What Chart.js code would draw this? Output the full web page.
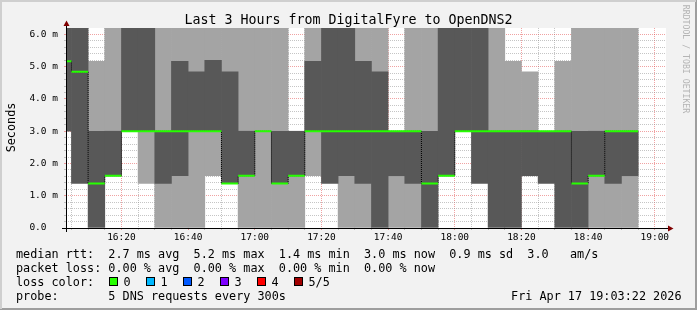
<!DOCTYPE html>
<html><head><meta charset="utf-8">
<script src="https://cdn.jsdelivr.net/npm/chart.js@4/dist/chart.umd.min.js"></script>
<style>html,body{margin:0;padding:0;background:#f2f2f2;overflow:hidden}canvas{display:block}</style>
</head><body>
<canvas id="c" width="697" height="310"></canvas>
<script>
// ---- data ----
const titleText = 'Last 3 Hours from DigitalFyre to OpenDNS2';
const startTime = '16:03:22';
const endTime = '19:03:22';
// end time of each 5-minute step
const times = ['16:05','16:10','16:15','16:20','16:25','16:30','16:35','16:40','16:45','16:50','16:55',
  '17:00','17:05','17:10','17:15','17:20','17:25','17:30','17:35','17:40','17:45','17:50','17:55',
  '18:00','18:05','18:10','18:15','18:20','18:25','18:30','18:35','18:40','18:45','18:50','18:55'];
// outer smoke band (ms)
const lightLow  = [null,null,3.0,3.0,null,1.38,0,0,0,1.62,4.84,0,0,0,0,1.62,null,0,0,4.84,0,0,3.0,null,null,null,3.0,3.0,3.0,null,3.0,3.0,0,0,0];
const lightHigh = [null,null,5.17,6.2,null,3.0,6.2,6.2,6.2,6.2,6.2,6.2,6.2,6.2,1.62,6.2,null,1.62,6.2,6.2,1.62,6.2,6.2,null,null,null,6.2,5.17,4.84,null,5.17,6.2,6.2,6.2,6.2];
// inner smoke band (ms)
const darkLow   = [3.0,1.38,0,1.62,3.0,3.0,1.38,1.62,3.0,3.0,1.38,1.62,null,1.38,1.62,3.0,1.38,1.62,1.38,0,1.62,1.38,0,1.62,3.0,1.38,0,0,1.62,1.38,0,0,1.62,1.38,1.62];
const darkHigh  = [6.2,6.2,3.0,3.0,6.2,6.2,3.0,5.17,4.84,5.2,4.84,3.0,null,3.0,3.0,5.17,6.2,6.2,5.17,4.84,3.0,3.0,3.0,6.2,6.2,6.2,3.0,3.0,3.0,3.0,3.0,3.0,3.0,3.0,3.0];
// median rtt (ms)
const median    = [5.17,4.84,1.38,1.62,3.0,3.0,3.0,3.0,3.0,3.0,1.38,1.62,3.0,1.38,1.62,3.0,3.0,3.0,3.0,3.0,3.0,3.0,1.38,1.62,3.0,3.0,3.0,3.0,3.0,3.0,3.0,1.38,1.62,3.0,3.0];
const xTickLabels = ['16:20','16:40','17:00','17:20','17:40','18:00','18:20','18:40','19:00'];
const yTickLabels = ['0.0  ','1.0 m','2.0 m','3.0 m','4.0 m','5.0 m','6.0 m'];
const yMax = 6.2;
const stepMin = 5;
const legendLines = [
  'median rtt:  2.7 ms avg  5.2 ms max  1.4 ms min  3.0 ms now  0.9 ms sd  3.0   am/s',
  'packet loss: 0.00 % avg  0.00 % max  0.00 % min  0.00 % now',
  'loss color:',
  'probe:       5 DNS requests every 300s'
];
const lossLabels = ['0','1','2','3','4','5/5'];
const lossColors = ['#26ff00','#00b8ff','#0059ff','#7e00ff','#ff0000','#a10000'];
const stampText = 'Fri Apr 17 19:03:22 2026';
const yTitle = 'Seconds';
const watermark = 'RRDTOOL / TOBI OETIKER';

// ---- helpers ----
const toMin = s => { const p = s.split(':').map(Number); return p[0]*60 + p[1] + (p[2]||0)/60; };
const ends = times.map(toMin);
const xMin = toMin(startTime), xMax = toMin(endTime);
const MONO = '"DejaVu Sans Mono", monospace';
const GRID = 'rgba(140,140,140,0.5)';
const MGRID = 'rgba(225,70,70,0.5)';

const lightData = ends.map((e,i) => ({x: e - stepMin/2, y: lightLow[i] === null ? null : [lightLow[i], lightHigh[i]]}));
const darkData  = ends.map((e,i) => ({x: e - stepMin/2, y: darkLow[i] === null ? null : [darkLow[i], darkHigh[i]]}));
const greenData = [];
ends.forEach((e,i) => { greenData.push({x: e - stepMin, y: median[i]}, {x: e, y: median[i]}, {x: e, y: null}); });
const stepData = ends.map((e,i) => ({x: e - stepMin, y: median[i]}));
stepData.push({x: ends[ends.length-1], y: median[median.length-1]});

const xMajor = new Map(xTickLabels.map(l => [toMin(l), l]));
const isXMajor = v => xMajor.has(Math.round(v));
const isYMajor = v => Math.abs(v - Math.round(v)) < 1e-6;

Chart.defaults.font.family = MONO;
Chart.defaults.color = '#000';

const decor = {
  id: 'decor',
  beforeDraw(chart) {
    const c = chart.ctx, a = chart.chartArea, W = chart.width, H = chart.height;
    c.save();
    c.fillStyle = '#f2f2f2'; c.fillRect(0, 0, W, H);
    c.fillStyle = '#9e9e9e'; c.fillRect(0, H-2, W, 2); c.fillRect(W-2, 0, 2, H);
    c.fillStyle = '#cfcfcf'; c.fillRect(0, 0, W-1, 2); c.fillRect(0, 0, 2, H-1);
    c.fillStyle = '#ffffff'; c.fillRect(a.left, a.top, a.right - a.left, a.bottom - a.top);
    c.restore();
  },
  afterDraw(chart) {
    const c = chart.ctx, a = chart.chartArea;
    c.save();
    // axes
    c.strokeStyle = '#000'; c.lineWidth = 1;
    c.beginPath();
    c.moveTo(a.left - 4, a.bottom + 0.5); c.lineTo(a.right + 4, a.bottom + 0.5);
    c.moveTo(a.left + 0.5, a.bottom + 4); c.lineTo(a.left + 0.5, a.top - 4);
    c.stroke();
    // arrows
    c.fillStyle = '#800000';
    c.beginPath();
    c.moveTo(a.right + 2, a.bottom - 2.5); c.lineTo(a.right + 2, a.bottom + 3.5); c.lineTo(a.right + 7.5, a.bottom + 0.5); c.closePath(); c.fill();
    c.beginPath();
    c.moveTo(a.left - 2.5, a.top - 2); c.lineTo(a.left + 3.5, a.top - 2); c.lineTo(a.left + 0.5, a.top - 7.5); c.closePath(); c.fill();
    // title
    c.fillStyle = '#000';
    c.font = '13.3px ' + MONO; c.textAlign = 'center'; c.textBaseline = 'alphabetic';
    c.fillText(titleText, chart.width/2, 23.5);
    // y title
    c.font = '11.8px ' + MONO;
    c.save(); c.translate(15, 127.5); c.rotate(-Math.PI/2); c.textBaseline = 'alphabetic'; c.fillText(yTitle, 0, 0); c.restore();
    // watermark
    c.save(); c.fillStyle = '#b4b4b4'; c.font = '8.2px ' + MONO; c.translate(685, 59); c.rotate(Math.PI/2); c.textAlign = 'center'; c.textBaseline = 'middle'; c.fillText(watermark, 0, 0); c.restore();
    // legend text
    c.font = '11.8px ' + MONO; c.textAlign = 'left'; c.textBaseline = 'alphabetic'; c.fillStyle = '#000';
    const base = [258, 272, 286, 300];
    legendLines.forEach((t, i) => c.fillText(t, 16, base[i]));
    lossLabels.forEach((l, k) => {
      const bx = Math.round(109 + 36.9*k);
      c.fillStyle = lossColors[k]; c.fillRect(bx, base[2] - 9, 9, 9);
      c.strokeStyle = '#000'; c.lineWidth = 1; c.strokeRect(bx + 0.5, base[2] - 8.5, 8, 8);
      c.fillStyle = '#000'; c.fillText(l, bx + 14.5, base[2]);
    });
    c.textAlign = 'right';
    c.fillText(stampText, 681.5, base[3]);
    c.restore();
  }
};

new Chart(document.getElementById('c'), {
  type: 'bar',
  data: { datasets: [
    { type: 'line', label: 'median', data: greenData, borderColor: '#26ff00', borderWidth: 2, pointRadius: 0, spanGaps: false, borderCapStyle: 'butt', order: 0, clip: 0 },
    { type: 'line', label: 'step', data: stepData, stepped: true, borderColor: '#000', borderWidth: 1, borderDash: [1, 1], pointRadius: 0, order: 1, clip: 0 },
    { type: 'bar', label: 'inner', data: darkData, backgroundColor: '#585858', borderWidth: 0, grouped: false, barPercentage: 1, categoryPercentage: 1, order: 2 },
    { type: 'bar', label: 'outer', data: lightData, backgroundColor: '#a4a4a4', borderWidth: 0, grouped: false, barPercentage: 1, categoryPercentage: 1, order: 3 }
  ]},
  options: {
    responsive: false, animation: false, devicePixelRatio: 1, events: [],
    layout: { padding: { top: 28, right: 31, left: 0, bottom: 0 } },
    plugins: { legend: { display: false }, tooltip: { enabled: false }, title: { display: false } },
    scales: {
      x: {
        type: 'linear', min: xMin, max: xMax, offset: false, z: 1,
        afterFit: s => { s.height = 82; },
        afterBuildTicks: s => {
          const t = [];
          for (let v = Math.ceil(xMin/stepMin)*stepMin; v <= xMax; v += stepMin) t.push({ value: v });
          s.ticks = t;
        },
        grid: { offset: false, lineWidth: 1, color: c => isXMajor(c.tick.value) ? MGRID : GRID,
                tickColor: c => isXMajor(c.tick.value) ? MGRID : GRID, tickLength: 2, drawTicks: true },
        border: { display: false, dash: [1, 1] },
        ticks: { autoSkip: false, maxRotation: 0, padding: 2, font: { size: 9.5, family: MONO }, color: '#000',
                 callback: v => xMajor.get(Math.round(v)) || '' }
      },
      y: {
        type: 'linear', min: 0, max: yMax, z: 1,
        afterFit: s => { s.width = 66; },
        afterBuildTicks: s => {
          const t = [];
          for (let i = 0; i <= 30; i++) t.push({ value: +(i*0.2).toFixed(1) });
          s.ticks = t;
        },
        grid: { lineWidth: 1, color: c => isYMajor(c.tick.value) ? MGRID : GRID,
                tickColor: c => isYMajor(c.tick.value) ? MGRID : GRID, tickLength: 2, drawTicks: true },
        border: { display: false, dash: [1, 1] },
        ticks: { autoSkip: false, padding: 6, font: { size: 9.5, family: MONO }, color: '#000',
                 callback: v => isYMajor(v) ? (yTickLabels[Math.round(v)] || '') : '' }
      }
    }
  },
  plugins: [decor]
});
</script>
</body></html>
